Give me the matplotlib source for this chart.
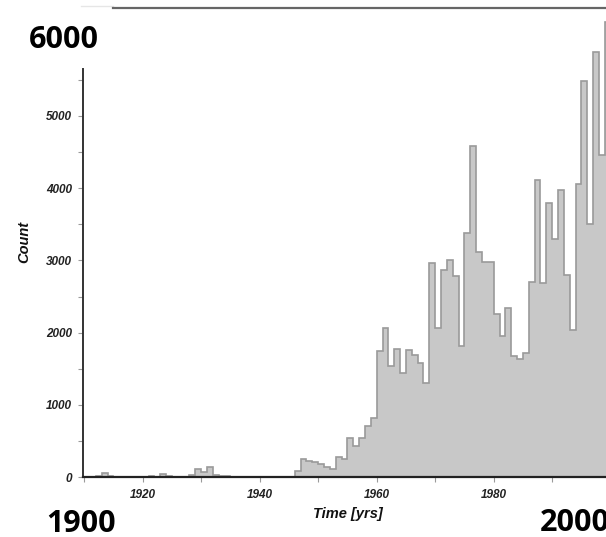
import numpy as np
import matplotlib
matplotlib.use('Agg')
import matplotlib.pyplot as plt
from matplotlib.ticker import MultipleLocator

# yearly bins 1910..1999
bin_start = 1910
counts = [0, 0, 20, 55, 18, 0, 0, 0, 0, 0,               # 1910s
          0, 18, 5, 45, 15, 0, 0, 0, 23, 105,             # 1920s
          70, 135, 25, 10, 10, 0, 0, 0, 0, 0,             # 1930s
          0, 0, 0, 0, 0, 0, 80, 245, 220, 210,            # 1940s
          185, 140, 115, 277, 245, 540, 430, 540, 706, 820,   # 1950s
          1740, 2064, 1537, 1768, 1445, 1764, 1685, 1583, 1302, 2968,  # 1960s
          2064, 2870, 3000, 2784, 1820, 3384, 4580, 3110, 2980, 2980,  # 1970s
          2253, 1948, 2341, 1671, 1639, 1722, 2700, 4109, 2687, 3800,  # 1980s
          3292, 3980, 2802, 2031, 4054, 5480, 3509, 5890, 4455, 6300]  # 1990s
edges = np.arange(bin_start, bin_start + len(counts) + 1)

x_major = [1920, 1940, 1960, 1980, 2000]
x_labels = ['1920', '1940', '1960', '1980', '']   # 2000 label hidden under the overlay
y_major = [0, 1000, 2000, 3000, 4000, 5000]
overlay_labels = ['6000', '1900', '2000']

W, H = 606, 537
fig = plt.figure(figsize=(W / 100, H / 100), dpi=100)
x0, x1 = 1909.8, 2010
ax = fig.add_axes([83 / W, (H - 477) / H, (x1 - x0) * 5.85 / W, 469.3 / H])

ax.stairs(counts, edges, fill=True, facecolor='#c8c8c8', edgecolor='#9a9a9a', lw=1.2)

ax.set_xlim(x0, x1)
ax.set_ylim(0, 6500)

ax.spines['right'].set_visible(False)
ax.spines['left'].set_bounds(0, 5650)
ax.spines['left'].set_linewidth(1.4)
ax.spines['left'].set_color('#333333')
ax.spines['bottom'].set_linewidth(1.6)
ax.spines['bottom'].set_color('#222222')
ax.spines['top'].set_bounds(1915.0, x1)
ax.spines['top'].set_linewidth(1.6)
ax.spines['top'].set_color('#666666')
ax.plot([1909.5, 1915.0], [6530, 6530], color='#e6e6e6', lw=1, clip_on=False)

ax.set_xticks(x_major)
ax.xaxis.set_minor_locator(MultipleLocator(10))
ax.set_yticks(y_major)
ax.set_yticks([v for v in np.arange(500, 5600, 1000)], minor=True)
ax.tick_params(which='both', direction='out', color='#9a9a9a', length=3.6, width=0.8)
ax.tick_params(axis='x', pad=5)
ax.tick_params(axis='y', pad=4.3)
ax.tick_params(top=False, right=False)

tick_font = dict(family='Liberation Sans', weight='bold', style='italic', size=8.5)
ax.set_xticklabels(x_labels, color='#222222', **tick_font)
ax.set_yticklabels([str(v) for v in y_major], color='#222222', **tick_font)

lab_font = dict(family='Liberation Sans', weight='bold', style='italic', size=10.5, color='#111111')
fig.text(24 / W, 1 - 242 / H, 'Count', rotation=90, ha='center', va='center', **lab_font)
fig.text(348 / W, 1 - 514 / H, 'Time [yrs]', ha='center', va='center', **lab_font)

big = dict(family='Open Sans', weight='bold', size=22, color='black')
fig.text(64 / W, 1 - 48 / H, overlay_labels[0], ha='center', va='baseline', **big)
fig.text(81 / W, 1 - 532 / H, overlay_labels[1], ha='center', va='baseline', **big)
fig.text(540 / W, 1 - 531 / H, overlay_labels[2], ha='left', va='baseline', **big)

fig.savefig('out.png', dpi=100)
